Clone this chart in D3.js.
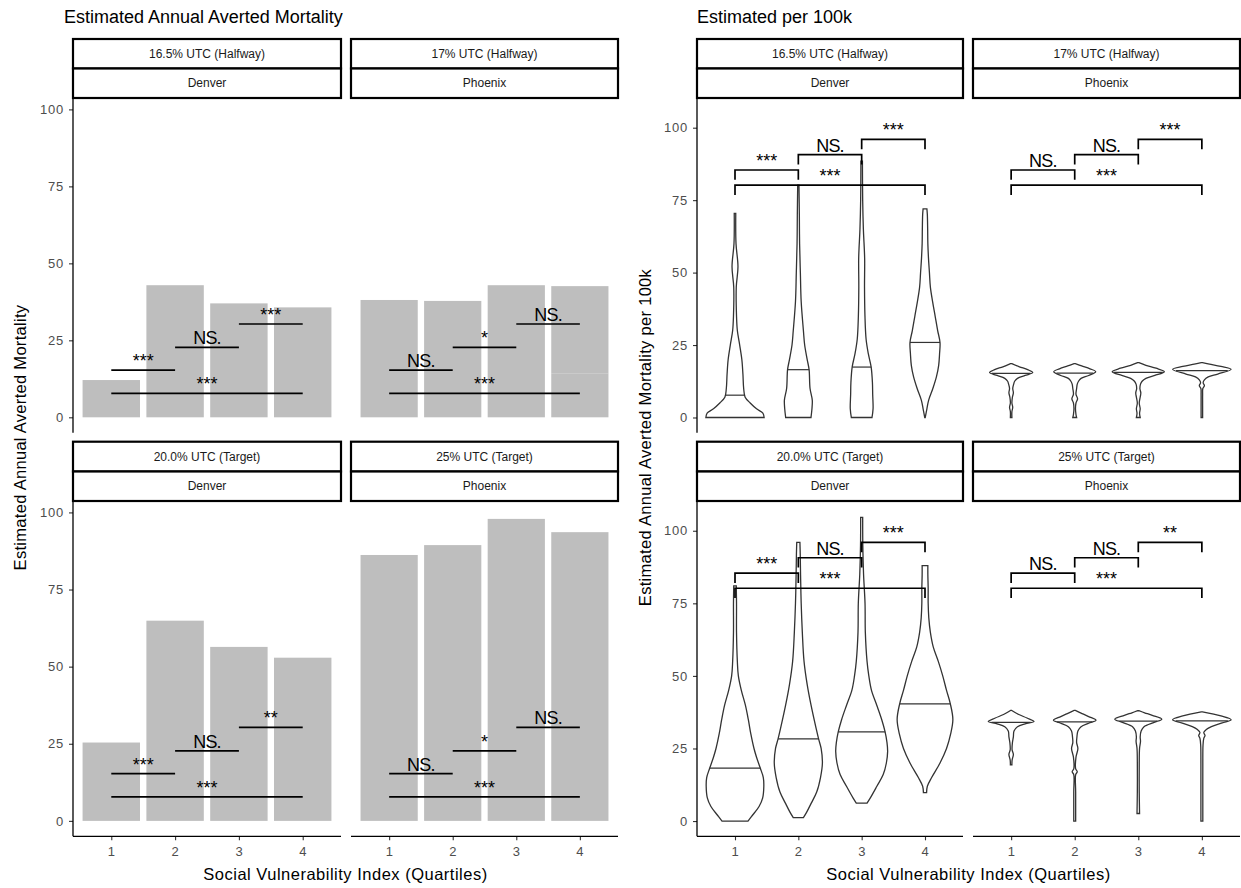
<!DOCTYPE html>
<html>
<head>
<meta charset="utf-8">
<script src="https://cdn.jsdelivr.net/npm/d3@7"></script>
<style>
  html, body { margin: 0; padding: 0; background: #fff; }
  svg { display: block; font-family: "Liberation Sans", Arial, Helvetica, sans-serif; }
</style>
</head>
<body>
<svg id="chart" width="1241" height="888"></svg>
<script>
// ---- data -------------------------------------------------------------
const sviQuartiles = ["1", "2", "3", "4"];
const yTicks = [0, 25, 50, 75, 100];

const scenarioTop = ["16.5% UTC (Halfway)", "17% UTC (Halfway)"];
const scenarioBottom = ["20.0% UTC (Target)", "25% UTC (Target)"];
const cities = ["Denver", "Phoenix"];

// Estimated annual averted deaths, stacked parts per SVI quartile
const avertedDenver165 = [[12.1], [42.9], [37.0], [35.7]];
const avertedPhoenix17 = [[38.1], [37.8], [42.9], [14.3, 28.3]];
const avertedDenver20 = [[25.4], [64.9], [56.4], [52.9]];
const avertedPhoenix25 = [[86.2], [89.4], [97.9], [3.2, 90.4]];

// Pairwise comparisons between quartiles
const comparisons = [[1, 2], [2, 3], [3, 4], [1, 4]];
const barSigY = [15.3, 22.7, 30.3, 7.8];
const violinSigY = [85.4, 90.7, 96.0, 80.2];
const bracketTip = 3.4;

const sigBarDenver165 = ["***", "NS.", "***", "***"];
const sigBarPhoenix17 = ["NS.", "*", "NS.", "***"];
const sigBarDenver20 = ["***", "NS.", "**", "***"];
const sigBarPhoenix25 = ["NS.", "*", "NS.", "***"];

const sigViolinDenver165 = ["***", "NS.", "***", "***"];
const sigViolinPhoenix17 = ["NS.", "NS.", "***", "***"];
const sigViolinDenver20 = ["***", "NS.", "***", "***"];
const sigViolinPhoenix25 = ["NS.", "NS.", "**", "***"];

// Per-100k distributions: density profile [value, half width] per quartile, and medians
const densityDenver165 = [
  [[0,0.46],[1.5,0.44],[3,0.34],[5,0.24],[7,0.16],[10,0.137],[15,0.125],[20,0.108],[25,0.074],[30,0.037],[35,0.024],[45,0.02],[52,0.047],[60,0.016],[70.4,0.012]],
  [[0,0.2],[3,0.215],[6,0.22],[10,0.185],[16.5,0.17],[20,0.14],[25,0.1],[30,0.08],[40,0.045],[50,0.032],[60,0.02],[70,0.016],[80.2,0.01]],
  [[0,0.163],[3,0.18],[8,0.174],[12,0.17],[17.4,0.15],[22,0.105],[27,0.07],[35,0.052],[45,0.045],[55,0.047],[65,0.027],[75,0.016],[88.5,0.012]],
  [[0,0.004],[3,0.03],[6,0.058],[10,0.124],[14,0.18],[18,0.216],[22,0.23],[25.9,0.237],[30,0.2],[35,0.16],[40,0.12],[45,0.085],[50,0.07],[55,0.055],[60,0.045],[65,0.042],[70,0.037],[72,0.03]]
];
const medianDenver165 = [7.7, 16.5, 17.4, 25.9];

const densityPhoenix17 = [
  [[0,0.012],[2,0.012],[3.5,0.025],[5,0.012],[7,0.02],[8.5,0.035],[10,0.025],[11.5,0.04],[12.5,0.055],[13.5,0.1],[14.5,0.22],[15.5,0.34],[16.5,0.26],[17.5,0.13],[18.6,0.01]],
  [[0,0.03],[1,0.02],[3,0.012],[5,0.02],[6.5,0.045],[8,0.02],[10,0.03],[11.5,0.04],[12.5,0.06],[13.5,0.1],[14.5,0.22],[15.8,0.33],[16.8,0.24],[17.8,0.11],[18.6,0.01]],
  [[0,0.03],[1.5,0.02],[3,0.03],[5,0.015],[7,0.03],[8.5,0.04],[10,0.025],[11.5,0.035],[12.5,0.06],[13.5,0.12],[14.5,0.26],[15.8,0.41],[17,0.28],[18,0.12],[18.9,0.01]],
  [[0,0.012],[4,0.012],[8,0.012],[10,0.015],[11,0.04],[12,0.02],[13,0.04],[14,0.1],[15,0.25],[16.6,0.46],[17.6,0.3],[18.4,0.12],[18.9,0.01]]
];
const medianPhoenix17 = [15.2, 15.3, 15.6, 16.2];

const densityDenver20 = [
  [[0,0.205],[2,0.276],[5,0.38],[8,0.437],[12,0.455],[15,0.447],[18.2,0.4],[22,0.34],[25,0.3],[30,0.25],[35,0.21],[40,0.163],[45,0.1],[50,0.053],[55,0.037],[65,0.024],[75,0.024],[81,0.02]],
  [[1.2,0.08],[3,0.13],[6,0.2],[10,0.29],[15,0.35],[20,0.38],[25,0.36],[28.3,0.32],[32,0.28],[40,0.2],[47,0.14],[55,0.09],[65,0.063],[75,0.045],[85,0.035],[92,0.03],[96,0.025]],
  [[6.2,0.085],[8,0.137],[12,0.24],[16,0.34],[20,0.39],[24,0.41],[27,0.4],[30.7,0.37],[35,0.316],[40,0.237],[45,0.155],[50,0.113],[55,0.085],[65,0.058],[75,0.053],[85,0.03],[95,0.018],[104.6,0.016]],
  [[9.8,0.025],[12,0.037],[15,0.105],[20,0.237],[25,0.34],[30,0.405],[35,0.44],[40.4,0.4],[45,0.34],[50,0.28],[55,0.21],[60,0.13],[65,0.085],[70,0.06],[75,0.05],[80,0.05],[85,0.045],[88,0.045]]
];
const medianDenver20 = [18.2, 28.3, 30.7, 40.4];

const densityPhoenix25 = [
  [[19.4,0.012],[21,0.015],[23,0.035],[24.5,0.015],[27,0.02],[29,0.035],[31,0.045],[32.5,0.1],[33.5,0.22],[34.3,0.36],[35.5,0.25],[36.7,0.12],[38.1,0.01]],
  [[0,0.015],[10,0.015],[16,0.015],[17,0.04],[18,0.015],[22,0.02],[25,0.05],[27,0.03],[29,0.035],[31,0.05],[32.5,0.1],[33.7,0.22],[34.7,0.335],[36,0.22],[37.2,0.1],[38.1,0.01]],
  [[2.6,0.02],[10,0.015],[20,0.015],[25,0.02],[27.5,0.035],[29,0.03],[31,0.045],[32.5,0.09],[34,0.25],[35.1,0.37],[36.4,0.22],[37.3,0.1],[38,0.01]],
  [[0,0.015],[10,0.015],[20,0.015],[26,0.018],[28.5,0.03],[29.5,0.05],[30.5,0.03],[31.5,0.07],[32.5,0.15],[33.8,0.32],[34.9,0.46],[36.2,0.3],[37.6,0.01]]
];
const medianPhoenix25 = [34.0, 34.2, 34.4, 34.5];

// ---- layout -----------------------------------------------------------
const svg = d3.select("#chart");
const FONT_TICK = 13, FONT_STRIP = 12, FONT_SIG = 18, FONT_AXIS = 16.5, FONT_TITLE = 18;

const rows = [
  { strip1: 39, strip2: 68.5, top: 98, bottom: 432.7 },
  { strip1: 441.7, strip2: 471.5, top: 501, bottom: 836.3 }
];
const leftCols = [[73, 341], [351, 618]];
const rightCols = [[697, 963], [973, 1240]];

function xScale(col) {
  return d3.scalePoint().domain(sviQuartiles).range(col).padding(0.6);
}

function drawStrips(col, row, label1, label2) {
  const g = svg.append("g");
  [[row.strip1, row.strip2, label1], [row.strip2, row.top, label2]].forEach(([y0, y1, lab]) => {
    g.append("rect")
      .attr("x", col[0]).attr("y", y0)
      .attr("width", col[1] - col[0]).attr("height", y1 - y0)
      .attr("fill", "#fff").attr("stroke", "#000").attr("stroke-width", 2.2);
    g.append("text")
      .attr("x", (col[0] + col[1]) / 2).attr("y", (y0 + y1) / 2)
      .attr("dy", "0.35em").attr("text-anchor", "middle")
      .attr("font-size", FONT_STRIP).attr("fill", "#1a1a1a")
      .text(lab);
  });
}

function styleTicks(g) {
  g.select(".domain").remove();
  g.selectAll(".tick line").attr("stroke", "#333").attr("stroke-width", 1.1);
  g.selectAll(".tick text").attr("font-size", FONT_TICK).attr("fill", "#4d4d4d")
    .attr("letter-spacing", 0.8)
    .attr("font-family", "Liberation Sans, Arial, sans-serif");
}

function drawYAxis(col, row, y) {
  const g = svg.append("g").attr("transform", `translate(${col[0]},0)`);
  g.call(d3.axisLeft(y).tickValues(yTicks).tickSize(4).tickPadding(5));
  styleTicks(g);
  g.append("line").attr("x1", 0).attr("x2", 0)
    .attr("y1", row.top).attr("y2", row.bottom)
    .attr("stroke", "#000").attr("stroke-width", 1.3);
}

function drawXAxis(col, row, x) {
  const g = svg.append("g").attr("transform", `translate(0,${row.bottom})`);
  g.call(d3.axisBottom(x).tickSize(4).tickPadding(6));
  styleTicks(g);
  g.append("line").attr("x1", col[0]).attr("x2", col[1])
    .attr("y1", 0).attr("y2", 0)
    .attr("stroke", "#000").attr("stroke-width", 1.3);
}

function sigLabel(g, xm, yy, lab) {
  g.append("text").attr("x", xm).attr("y", yy - 3)
    .attr("text-anchor", "middle").attr("font-size", FONT_SIG).attr("fill", "#000")
    .attr("letter-spacing", lab === "NS." ? -0.8 : 0)
    .text(lab);
}

function drawBars(col, row, parts, sig, showY, showX) {
  const x = xScale(col);
  const y = d3.scaleLinear().domain([-5, 103.7]).range([row.bottom, row.top]);
  const bw = x.step() * 0.9;
  const g = svg.append("g");
  parts.forEach((stack, i) => {
    let base = 0;
    stack.forEach(v => {
      g.append("rect")
        .attr("x", x(sviQuartiles[i]) - bw / 2)
        .attr("y", y(base + v))
        .attr("width", bw)
        .attr("height", y(base) - y(base + v))
        .attr("fill", "#bebebe");
      base += v;
    });
  });
  comparisons.forEach(([a, b], k) => {
    const xa = x(sviQuartiles[a - 1]), xb = x(sviQuartiles[b - 1]);
    const yy = y(barSigY[k]);
    g.append("line").attr("x1", xa).attr("x2", xb).attr("y1", yy).attr("y2", yy)
      .attr("stroke", "#000").attr("stroke-width", 1.7);
    sigLabel(g, (xa + xb) / 2, yy, sig[k]);
  });
  if (showY) drawYAxis(col, row, y);
  if (showX) drawXAxis(col, row, x);
}

function halfWidthAt(profile, v) {
  for (let i = 0; i < profile.length - 1; i++) {
    const [v0, w0] = profile[i], [v1, w1] = profile[i + 1];
    if (v >= v0 && v <= v1) return w0 + (w1 - w0) * (v - v0) / (v1 - v0);
  }
  return 0;
}

function drawViolins(col, row, profiles, medians, sig, showY, showX) {
  const x = xScale(col);
  const y = d3.scaleLinear().domain([-5.25, 110.25]).range([row.bottom, row.top]);
  const step = x.step();
  const g = svg.append("g");
  profiles.forEach((profile, i) => {
    const cx = x(sviQuartiles[i]);
    const area = d3.area()
      .y(d => y(d[0]))
      .x0(d => cx - d[1] * step)
      .x1(d => cx + d[1] * step)
      .curve(d3.curveCatmullRom.alpha(0.5));
    g.append("path").attr("d", area(profile))
      .attr("fill", "#fff").attr("stroke", "#333").attr("stroke-width", 1.3);
    const m = medians[i];
    const hw = halfWidthAt(profile, m) * step;
    g.append("line").attr("x1", cx - hw).attr("x2", cx + hw)
      .attr("y1", y(m)).attr("y2", y(m))
      .attr("stroke", "#333").attr("stroke-width", 1.2);
  });
  comparisons.forEach(([a, b], k) => {
    const xa = x(sviQuartiles[a - 1]), xb = x(sviQuartiles[b - 1]);
    const yy = y(violinSigY[k]), yt = y(violinSigY[k] - bracketTip);
    g.append("path")
      .attr("d", `M${xa},${yt}V${yy}H${xb}V${yt}`)
      .attr("fill", "none").attr("stroke", "#000").attr("stroke-width", 1.7);
    sigLabel(g, (xa + xb) / 2, yy, sig[k]);
  });
  if (showY) drawYAxis(col, row, y);
  if (showX) drawXAxis(col, row, x);
}

// ---- left chart: averted deaths --------------------------------------
drawBars(leftCols[0], rows[0], avertedDenver165, sigBarDenver165, true, false);
drawBars(leftCols[1], rows[0], avertedPhoenix17, sigBarPhoenix17, false, false);
drawBars(leftCols[0], rows[1], avertedDenver20, sigBarDenver20, true, true);
drawBars(leftCols[1], rows[1], avertedPhoenix25, sigBarPhoenix25, false, true);
drawStrips(leftCols[0], rows[0], scenarioTop[0], cities[0]);
drawStrips(leftCols[1], rows[0], scenarioTop[1], cities[1]);
drawStrips(leftCols[0], rows[1], scenarioBottom[0], cities[0]);
drawStrips(leftCols[1], rows[1], scenarioBottom[1], cities[1]);

// ---- right chart: per 100k -------------------------------------------
drawViolins(rightCols[0], rows[0], densityDenver165, medianDenver165, sigViolinDenver165, true, false);
drawViolins(rightCols[1], rows[0], densityPhoenix17, medianPhoenix17, sigViolinPhoenix17, false, false);
drawViolins(rightCols[0], rows[1], densityDenver20, medianDenver20, sigViolinDenver20, true, true);
drawViolins(rightCols[1], rows[1], densityPhoenix25, medianPhoenix25, sigViolinPhoenix25, false, true);
drawStrips(rightCols[0], rows[0], scenarioTop[0], cities[0]);
drawStrips(rightCols[1], rows[0], scenarioTop[1], cities[1]);
drawStrips(rightCols[0], rows[1], scenarioBottom[0], cities[0]);
drawStrips(rightCols[1], rows[1], scenarioBottom[1], cities[1]);

// ---- titles ------------------------------------------------------------
function title(xp, text) {
  svg.append("text").attr("x", xp).attr("y", 23)
    .attr("font-size", FONT_TITLE).attr("fill", "#000").text(text);
}
title(64, "Estimated Annual Averted Mortality");
title(697, "Estimated per 100k");

function xTitle(cx, text) {
  svg.append("text").attr("x", cx).attr("y", 880)
    .attr("text-anchor", "middle").attr("font-size", FONT_AXIS)
    .attr("letter-spacing", 0.5).attr("fill", "#000").text(text);
}
xTitle((leftCols[0][0] + leftCols[1][1]) / 2, "Social Vulnerability Index (Quartiles)");
xTitle((rightCols[0][0] + rightCols[1][1]) / 2, "Social Vulnerability Index (Quartiles)");

function yTitle(xp, text) {
  svg.append("text")
    .attr("transform", `translate(${xp},437.5) rotate(-90)`)
    .attr("text-anchor", "middle").attr("dy", "0.35em")
    .attr("font-size", FONT_AXIS).attr("letter-spacing", 0.3)
    .attr("fill", "#000").text(text);
}
yTitle(20, "Estimated Annual Averted Mortality");
yTitle(645, "Estimated Annual Averted Mortality per 100k");
</script>
</body>
</html>
